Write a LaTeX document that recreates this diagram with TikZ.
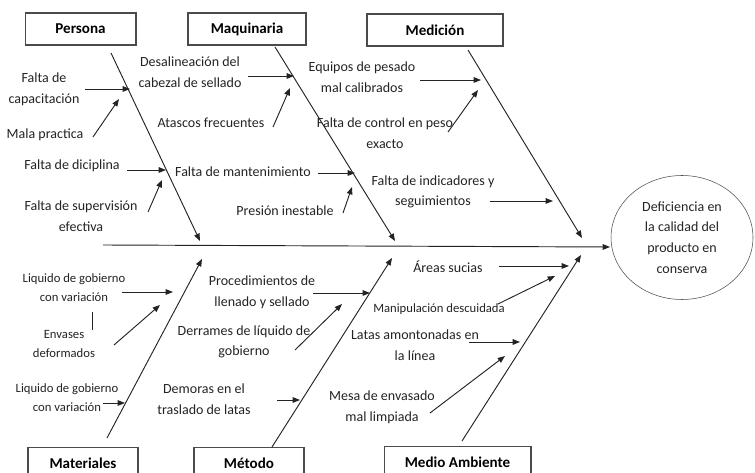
\documentclass[tikz,border=0pt]{standalone}
\usepackage{fontspec}
\setmainfont{Carlito}
\usepackage{tikz}
\usetikzlibrary{arrows.meta,shapes.geometric}
\definecolor{cInk}{RGB}{35,35,35}
\definecolor{cBox}{RGB}{75,75,75}

\begin{document}
\begin{tikzpicture}[x=0.75pt,y=-0.75pt,
  catbox/.style={draw=cBox,line width=1pt,inner sep=0pt,minimum height=24pt,
    font=\bfseries\fontsize{11.3}{13}\selectfont,text=black},
  cause/.style={align=center,inner sep=0pt,text=cInk,font=\fontsize{10.5}{15.5}\selectfont},
  smallcause/.style={cause,font=\fontsize{9.5}{14.3}\selectfont},
  bone/.style={draw=cInk,line width=0.7pt,-{Triangle[length=5.5pt,width=4.2pt]}}]
  \useasboundingbox (0,0) rectangle (755,473);
  \clip (0,0) rectangle (755,473);

  % categories
  \node[catbox,minimum width=83pt]    (persona) at (80.5,29)    {Persona};
  \node[catbox,minimum width=88.5pt]  (maq)     at (247,29)     {Maquinaria};
  \node[catbox,minimum width=102pt]   (med)     at (435,30)     {Medición};
  \node[catbox,minimum width=82.5pt]  (mat)     at (83,463.5)   {Materiales};
  \node[catbox,minimum width=82.5pt]  (met)     at (249,463.5)  {Método};
  \node[catbox,minimum width=110pt]   (amb)     at (457.5,462.5){Medio Ambiente};

  % effect
  \node[draw=cBox,ellipse,cause,minimum width=106.5pt,minimum height=93pt] (eff) at (682,237.5)
    {Deficiencia en\\la calidad del\\producto en\\conserva};

  % spine and main bones
  \coordinate (spL) at (103,245); \coordinate (spR) at (610,247);
  \draw[bone] (spL) -- (spR);
  \foreach \nm/\sx/\sy/\ex/\ey in {bP/111/53/200/241, bM/275/47/395/241, bD/468/50/582/238,
      bA/107/438/202/259, bT/272/447/392/258, bE/462/441/581/255}{
    \coordinate (\nm s) at (\sx,\sy);
    \coordinate (\nm e) at (\ex,\ey);
    \draw[bone] (\nm s) -- (\nm e);
  }

  % causes: Persona
  \node[cause] (cP1) at (44,89.5)  {Falta de\\capacitación};
  \node[cause] (cP2) at (45,135)   {Mala practica};
  \node[cause] (cP3) at (72,166)   {Falta de diciplina};
  \node[cause] (cP4) at (81,216.5) {Falta de supervisión\\efectiva};
  % causes: Maquinaria
  \node[cause] (cM1) at (190,72)   {Desalineación del\\cabezal de sellado};
  \node[cause] (cM2) at (211,123)  {Atascos frecuentes};
  \node[cause] (cM3) at (243,172)  {Falta de mantenimiento};
  \node[cause] (cM4) at (285,211)  {Presión inestable};
  % causes: Medición
  \node[cause] (cD1) at (362,77)   {Equipos de pesado\\mal calibrados};
  \node[cause] (cD2) at (385,133)  {Falta de control en peso\\exacto};
  \node[cause] (cD3) at (433,192)  {Falta de indicadores y\\seguimientos};
  % causes: Materiales
  \node[smallcause] (cA1) at (74,287.5)  {Liquido de gobierno\\con variación};
  \node[smallcause] (cA2) at (64,344)    {Envases\\deformados};
  \node[smallcause] (cA3) at (67,397.5)  {Liquido de gobierno\\con variación};
  % causes: Método
  \node[cause] (cT1) at (262,292.5) {Procedimientos de\\llenado y sellado};
  \node[cause] (cT2) at (244,342)   {Derrames de líquido de\\gobierno};
  \node[cause] (cT3) at (204,399.5) {Demoras en el\\traslado de latas};
  % causes: Medio Ambiente
  \node[cause] (cE1) at (448,267)        {Áreas sucias};
  \node[smallcause] (cE2) at (439,309)   {Manipulación descuidada};
  \node[cause] (cE3) at (415,345.5)      {Latas amontonadas en\\la línea};
  \node[cause] (cE4) at (382,407.5)      {Mesa de envasado\\mal limpiada};

  % small arrows
  \foreach \nm/\sx/\sy/\ex/\ey in {
      aP1/85/89/130/89, aP2/93/137/119/99, aP3/127/170/166/170, aP4/148/212/162/180,
      aM1/248/76/294/76, aM2/273/127/290/88, aM3/318/173/355/173, aM4/343/213/352/187,
      aD1/420/80/481/80, aD2/448/132/478/90, aD3/490/201/553/201,
      aA1/122/292/173/292, aA2/114/345/160/305, aA3/103/403/125/403,
      aT1/313/293/370/293, aT2/295/350/342/304, aT3/277/400/300/400,
      aE1/499/266/569/266, aE2/498/304/555/276, aE3/469/342/520/342, aE4/430/413/505/356}{
    \coordinate (\nm s) at (\sx,\sy);
    \coordinate (\nm e) at (\ex,\ey);
    \draw[bone] (\nm s) -- (\nm e);
  }
  \coordinate (stT) at (92,312); \coordinate (stB) at (92,330);
  \draw[cInk,line width=0.6pt] (stT) -- (stB);
\end{tikzpicture}
\end{document}
